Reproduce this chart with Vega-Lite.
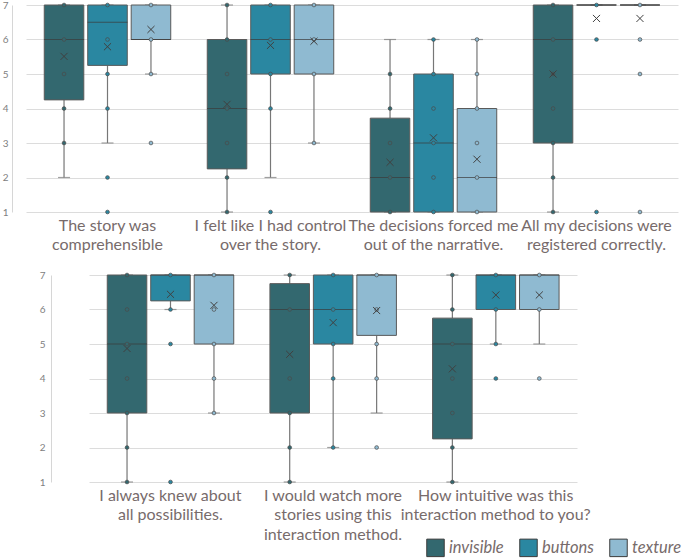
{
  "$schema": "https://vega.github.io/schema/vega-lite/v6.json",
  "background": "white",
  "padding": {"left": 0, "top": 0, "right": 0, "bottom": 0},
  "spacing": 17,
  "config": {
    "view": {"stroke": null},
    "font": "Lato",
    "axisX": {"domain": false, "ticks": false, "grid": false, "labelAngle": 0, "labelFontSize": 16, "labelColor": "#776b6b", "labelLineHeight": 19.5, "labelPadding": 5, "labelLimit": 400, "labelBaseline": "top"},
    "axisY": {"grid": true, "gridColor": "#dcdcdc", "domain": true, "domainColor": "#d6d6d6", "ticks": false, "labelFontSize": 10, "labelColor": "#808080", "values": [1, 2, 3, 4, 5, 6, 7]},
    "legend": {"orient": "none", "legendX": 414, "legendY": 533, "direction": "horizontal", "symbolType": "square", "symbolSize": 306, "symbolStrokeColor": "#3c3c3c", "symbolStrokeWidth": 1, "labelFont": "Lato", "labelFontStyle": "italic", "labelFontSize": 16.5, "labelColor": "#776b6b", "labelOffset": 4, "columnPadding": 13, "title": null}
  },
  "datasets": {
    "statsTop": [
      {"q": "The story was|comprehensible", "cond": "invisible", "lo": 2, "q1": 4.25, "med": 6, "q3": 7, "hi": 7, "mean": 5.51},
      {"q": "The story was|comprehensible", "cond": "buttons", "lo": 3, "q1": 5.25, "med": 6.5, "q3": 7, "hi": 7, "mean": 5.79},
      {"q": "The story was|comprehensible", "cond": "texture", "lo": 5, "q1": 6, "med": 6, "q3": 7, "hi": 7, "mean": 6.29},
      {"q": "I felt like I had control|over the story.", "cond": "invisible", "lo": 1, "q1": 2.25, "med": 4, "q3": 6, "hi": 7, "mean": 4.12},
      {"q": "I felt like I had control|over the story.", "cond": "buttons", "lo": 2, "q1": 5, "med": 6, "q3": 7, "hi": 7, "mean": 5.83},
      {"q": "I felt like I had control|over the story.", "cond": "texture", "lo": 3, "q1": 5, "med": 6, "q3": 7, "hi": 7, "mean": 5.95},
      {"q": "The decisions forced me|out of the narrative.", "cond": "invisible", "lo": 1, "q1": 1, "med": 2, "q3": 3.72, "hi": 6, "mean": 2.44},
      {"q": "The decisions forced me|out of the narrative.", "cond": "buttons", "lo": 1, "q1": 1, "med": 3, "q3": 5, "hi": 6, "mean": 3.15},
      {"q": "The decisions forced me|out of the narrative.", "cond": "texture", "lo": 1, "q1": 1, "med": 2, "q3": 4, "hi": 6, "mean": 2.53},
      {"q": "All my decisions were|registered correctly.", "cond": "invisible", "lo": 1, "q1": 3, "med": 6, "q3": 7, "hi": 7, "mean": 5.0},
      {"q": "All my decisions were|registered correctly.", "cond": "buttons", "lo": 7, "q1": 7, "med": 7, "q3": 7, "hi": 7, "mean": 6.61},
      {"q": "All my decisions were|registered correctly.", "cond": "texture", "lo": 7, "q1": 7, "med": 7, "q3": 7, "hi": 7, "mean": 6.61}
    ],
    "statsBot": [
      {"q": "I always knew about|all possibilities.", "cond": "invisible", "lo": 1, "q1": 3, "med": 5, "q3": 7, "hi": 7, "mean": 4.87},
      {"q": "I always knew about|all possibilities.", "cond": "buttons", "lo": 6, "q1": 6.25, "med": 7, "q3": 7, "hi": 7, "mean": 6.44},
      {"q": "I always knew about|all possibilities.", "cond": "texture", "lo": 3, "q1": 5, "med": 7, "q3": 7, "hi": 7, "mean": 6.12},
      {"q": "I would watch more|stories using this|interaction method.", "cond": "invisible", "lo": 1, "q1": 3, "med": 6, "q3": 6.75, "hi": 7, "mean": 4.7},
      {"q": "I would watch more|stories using this|interaction method.", "cond": "buttons", "lo": 2, "q1": 5, "med": 6, "q3": 7, "hi": 7, "mean": 5.62},
      {"q": "I would watch more|stories using this|interaction method.", "cond": "texture", "lo": 3, "q1": 5.25, "med": 7, "q3": 7, "hi": 7, "mean": 5.97},
      {"q": "How intuitive was this|interaction method to you?", "cond": "invisible", "lo": 1, "q1": 2.25, "med": 5, "q3": 5.75, "hi": 7, "mean": 4.28},
      {"q": "How intuitive was this|interaction method to you?", "cond": "buttons", "lo": 5, "q1": 6, "med": 7, "q3": 7, "hi": 7, "mean": 6.42},
      {"q": "How intuitive was this|interaction method to you?", "cond": "texture", "lo": 5, "q1": 6, "med": 7, "q3": 7, "hi": 7, "mean": 6.42}
    ],
    "ptsTop": [
      {"q": "The story was|comprehensible", "cond": "invisible", "v": 7},
      {"q": "The story was|comprehensible", "cond": "invisible", "v": 6},
      {"q": "The story was|comprehensible", "cond": "invisible", "v": 5},
      {"q": "The story was|comprehensible", "cond": "invisible", "v": 4},
      {"q": "The story was|comprehensible", "cond": "invisible", "v": 3},
      {"q": "The story was|comprehensible", "cond": "buttons", "v": 7},
      {"q": "The story was|comprehensible", "cond": "buttons", "v": 6},
      {"q": "The story was|comprehensible", "cond": "buttons", "v": 5},
      {"q": "The story was|comprehensible", "cond": "buttons", "v": 4},
      {"q": "The story was|comprehensible", "cond": "buttons", "v": 2},
      {"q": "The story was|comprehensible", "cond": "buttons", "v": 1},
      {"q": "The story was|comprehensible", "cond": "texture", "v": 7},
      {"q": "The story was|comprehensible", "cond": "texture", "v": 6},
      {"q": "The story was|comprehensible", "cond": "texture", "v": 5},
      {"q": "The story was|comprehensible", "cond": "texture", "v": 3},
      {"q": "I felt like I had control|over the story.", "cond": "invisible", "v": 7},
      {"q": "I felt like I had control|over the story.", "cond": "invisible", "v": 6},
      {"q": "I felt like I had control|over the story.", "cond": "invisible", "v": 5},
      {"q": "I felt like I had control|over the story.", "cond": "invisible", "v": 4},
      {"q": "I felt like I had control|over the story.", "cond": "invisible", "v": 3},
      {"q": "I felt like I had control|over the story.", "cond": "invisible", "v": 2},
      {"q": "I felt like I had control|over the story.", "cond": "invisible", "v": 1},
      {"q": "I felt like I had control|over the story.", "cond": "buttons", "v": 7},
      {"q": "I felt like I had control|over the story.", "cond": "buttons", "v": 6},
      {"q": "I felt like I had control|over the story.", "cond": "buttons", "v": 5},
      {"q": "I felt like I had control|over the story.", "cond": "buttons", "v": 4},
      {"q": "I felt like I had control|over the story.", "cond": "buttons", "v": 1},
      {"q": "I felt like I had control|over the story.", "cond": "texture", "v": 7},
      {"q": "I felt like I had control|over the story.", "cond": "texture", "v": 6},
      {"q": "I felt like I had control|over the story.", "cond": "texture", "v": 5},
      {"q": "I felt like I had control|over the story.", "cond": "texture", "v": 3},
      {"q": "The decisions forced me|out of the narrative.", "cond": "invisible", "v": 5},
      {"q": "The decisions forced me|out of the narrative.", "cond": "invisible", "v": 4},
      {"q": "The decisions forced me|out of the narrative.", "cond": "invisible", "v": 3},
      {"q": "The decisions forced me|out of the narrative.", "cond": "invisible", "v": 2},
      {"q": "The decisions forced me|out of the narrative.", "cond": "invisible", "v": 1},
      {"q": "The decisions forced me|out of the narrative.", "cond": "buttons", "v": 6},
      {"q": "The decisions forced me|out of the narrative.", "cond": "buttons", "v": 5},
      {"q": "The decisions forced me|out of the narrative.", "cond": "buttons", "v": 4},
      {"q": "The decisions forced me|out of the narrative.", "cond": "buttons", "v": 3},
      {"q": "The decisions forced me|out of the narrative.", "cond": "buttons", "v": 2},
      {"q": "The decisions forced me|out of the narrative.", "cond": "buttons", "v": 1},
      {"q": "The decisions forced me|out of the narrative.", "cond": "texture", "v": 6},
      {"q": "The decisions forced me|out of the narrative.", "cond": "texture", "v": 5},
      {"q": "The decisions forced me|out of the narrative.", "cond": "texture", "v": 4},
      {"q": "The decisions forced me|out of the narrative.", "cond": "texture", "v": 3},
      {"q": "The decisions forced me|out of the narrative.", "cond": "texture", "v": 2},
      {"q": "The decisions forced me|out of the narrative.", "cond": "texture", "v": 1},
      {"q": "All my decisions were|registered correctly.", "cond": "invisible", "v": 7},
      {"q": "All my decisions were|registered correctly.", "cond": "invisible", "v": 6},
      {"q": "All my decisions were|registered correctly.", "cond": "invisible", "v": 5},
      {"q": "All my decisions were|registered correctly.", "cond": "invisible", "v": 4},
      {"q": "All my decisions were|registered correctly.", "cond": "invisible", "v": 3},
      {"q": "All my decisions were|registered correctly.", "cond": "invisible", "v": 2},
      {"q": "All my decisions were|registered correctly.", "cond": "invisible", "v": 1},
      {"q": "All my decisions were|registered correctly.", "cond": "buttons", "v": 7},
      {"q": "All my decisions were|registered correctly.", "cond": "buttons", "v": 6},
      {"q": "All my decisions were|registered correctly.", "cond": "buttons", "v": 1},
      {"q": "All my decisions were|registered correctly.", "cond": "texture", "v": 7},
      {"q": "All my decisions were|registered correctly.", "cond": "texture", "v": 6},
      {"q": "All my decisions were|registered correctly.", "cond": "texture", "v": 5},
      {"q": "All my decisions were|registered correctly.", "cond": "texture", "v": 1}
    ],
    "ptsBot": [
      {"q": "I always knew about|all possibilities.", "cond": "invisible", "v": 7},
      {"q": "I always knew about|all possibilities.", "cond": "invisible", "v": 6},
      {"q": "I always knew about|all possibilities.", "cond": "invisible", "v": 5},
      {"q": "I always knew about|all possibilities.", "cond": "invisible", "v": 4},
      {"q": "I always knew about|all possibilities.", "cond": "invisible", "v": 3},
      {"q": "I always knew about|all possibilities.", "cond": "invisible", "v": 2},
      {"q": "I always knew about|all possibilities.", "cond": "invisible", "v": 1},
      {"q": "I always knew about|all possibilities.", "cond": "buttons", "v": 7},
      {"q": "I always knew about|all possibilities.", "cond": "buttons", "v": 6},
      {"q": "I always knew about|all possibilities.", "cond": "buttons", "v": 5},
      {"q": "I always knew about|all possibilities.", "cond": "buttons", "v": 1},
      {"q": "I always knew about|all possibilities.", "cond": "texture", "v": 7},
      {"q": "I always knew about|all possibilities.", "cond": "texture", "v": 6},
      {"q": "I always knew about|all possibilities.", "cond": "texture", "v": 5},
      {"q": "I always knew about|all possibilities.", "cond": "texture", "v": 4},
      {"q": "I always knew about|all possibilities.", "cond": "texture", "v": 3},
      {"q": "I would watch more|stories using this|interaction method.", "cond": "invisible", "v": 7},
      {"q": "I would watch more|stories using this|interaction method.", "cond": "invisible", "v": 6},
      {"q": "I would watch more|stories using this|interaction method.", "cond": "invisible", "v": 4},
      {"q": "I would watch more|stories using this|interaction method.", "cond": "invisible", "v": 3},
      {"q": "I would watch more|stories using this|interaction method.", "cond": "invisible", "v": 2},
      {"q": "I would watch more|stories using this|interaction method.", "cond": "invisible", "v": 1},
      {"q": "I would watch more|stories using this|interaction method.", "cond": "buttons", "v": 7},
      {"q": "I would watch more|stories using this|interaction method.", "cond": "buttons", "v": 6},
      {"q": "I would watch more|stories using this|interaction method.", "cond": "buttons", "v": 5},
      {"q": "I would watch more|stories using this|interaction method.", "cond": "buttons", "v": 4},
      {"q": "I would watch more|stories using this|interaction method.", "cond": "buttons", "v": 2},
      {"q": "I would watch more|stories using this|interaction method.", "cond": "texture", "v": 7},
      {"q": "I would watch more|stories using this|interaction method.", "cond": "texture", "v": 6},
      {"q": "I would watch more|stories using this|interaction method.", "cond": "texture", "v": 5},
      {"q": "I would watch more|stories using this|interaction method.", "cond": "texture", "v": 4},
      {"q": "I would watch more|stories using this|interaction method.", "cond": "texture", "v": 2},
      {"q": "How intuitive was this|interaction method to you?", "cond": "invisible", "v": 7},
      {"q": "How intuitive was this|interaction method to you?", "cond": "invisible", "v": 6},
      {"q": "How intuitive was this|interaction method to you?", "cond": "invisible", "v": 5},
      {"q": "How intuitive was this|interaction method to you?", "cond": "invisible", "v": 4},
      {"q": "How intuitive was this|interaction method to you?", "cond": "invisible", "v": 3},
      {"q": "How intuitive was this|interaction method to you?", "cond": "invisible", "v": 2},
      {"q": "How intuitive was this|interaction method to you?", "cond": "invisible", "v": 1},
      {"q": "How intuitive was this|interaction method to you?", "cond": "buttons", "v": 7},
      {"q": "How intuitive was this|interaction method to you?", "cond": "buttons", "v": 6},
      {"q": "How intuitive was this|interaction method to you?", "cond": "buttons", "v": 5},
      {"q": "How intuitive was this|interaction method to you?", "cond": "buttons", "v": 4},
      {"q": "How intuitive was this|interaction method to you?", "cond": "texture", "v": 7},
      {"q": "How intuitive was this|interaction method to you?", "cond": "texture", "v": 6},
      {"q": "How intuitive was this|interaction method to you?", "cond": "texture", "v": 4}
    ]
  },
  "vconcat": [
    {
      "width": 673,
      "height": 207,
      "encoding": {
        "x": {"field": "q", "type": "nominal", "title": null,
          "scale": {"domain": ["The story was|comprehensible", "I felt like I had control|over the story.", "The decisions forced me|out of the narrative.", "All my decisions were|registered correctly."], "range": [14, 666], "paddingInner": 0, "paddingOuter": 0},
          "axis": {"labelExpr": "split(datum.label, '|')"}},
        "xOffset": {"field": "cond", "type": "nominal", "scale": {"domain": ["invisible", "buttons", "texture"], "paddingInner": 0.09, "paddingOuter": 0.42}}
      },
      "layer": [
        {"data": {"name": "statsTop"}, "mark": {"type": "rule", "color": "#777777", "strokeWidth": 1.2},
          "encoding": {"y": {"field": "lo", "type": "quantitative", "title": null, "scale": {"domain": [1, 7], "nice": false, "zero": false}, "axis": {"minExtent": 12, "maxExtent": 12, "labelPadding": 4}}, "y2": {"field": "q1"}}},
        {"data": {"name": "statsTop"}, "mark": {"type": "rule", "color": "#777777", "strokeWidth": 1.2},
          "encoding": {"y": {"field": "q3", "type": "quantitative", "title": null}, "y2": {"field": "hi"}}},
        {"data": {"name": "statsTop"}, "mark": {"type": "tick", "color": "#777777", "size": 12, "thickness": 1.2},
          "encoding": {"y": {"field": "lo", "type": "quantitative", "title": null}}},
        {"data": {"name": "statsTop"}, "mark": {"type": "tick", "color": "#777777", "size": 12, "thickness": 1.2},
          "encoding": {"y": {"field": "hi", "type": "quantitative", "title": null}}},
        {"data": {"name": "statsTop"}, "mark": {"type": "bar", "stroke": "#5a5a5a", "strokeWidth": 1},
          "encoding": {"y": {"field": "q1", "type": "quantitative", "title": null}, "y2": {"field": "q3"},
            "fill": {"field": "cond", "type": "nominal", "title": null, "scale": {"domain": ["invisible", "buttons", "texture"], "range": ["#33686f", "#2a87a1", "#8fbad1"]}}}},
        {"data": {"name": "statsTop"}, "mark": {"type": "tick", "color": "#3a3a3a", "size": 40, "thickness": 1.2},
          "encoding": {"y": {"field": "med", "type": "quantitative", "title": null}}},
        {"data": {"name": "ptsTop"}, "mark": {"type": "point", "filled": true, "size": 14, "stroke": "#4a4a4a", "strokeWidth": 0.7, "opacity": 1},
          "encoding": {"y": {"field": "v", "type": "quantitative", "title": null}, "fill": {"field": "cond", "type": "nominal", "title": null}}},
        {"data": {"name": "statsTop"}, "mark": {"type": "point", "shape": "M-1,-1L1,1M-1,1L1,-1", "size": 50, "stroke": "#404040", "strokeWidth": 1, "filled": false, "opacity": 1},
          "encoding": {"y": {"field": "mean", "type": "quantitative", "title": null}}}
      ]
    },
    {
      "spacing": 0,
      "hconcat": [
        {
          "width": 1,
          "height": 207,
          "data": {"values": [{"s": 1}]},
          "mark": {"type": "point", "opacity": 0},
          "encoding": {"y": {"field": "s", "type": "quantitative", "axis": null}}
        },
        {
          "width": 576,
          "height": 207,
          "encoding": {
            "x": {"field": "q", "type": "nominal", "title": null,
              "scale": {"domain": ["I always knew about|all possibilities.", "I would watch more|stories using this|interaction method.", "How intuitive was this|interaction method to you?"], "range": [38, 526], "paddingInner": 0, "paddingOuter": 0},
              "axis": {"labelExpr": "split(datum.label, '|')"}},
            "xOffset": {"field": "cond", "type": "nominal", "scale": {"domain": ["invisible", "buttons", "texture"], "paddingInner": 0.09, "paddingOuter": 0.42}}
          },
          "layer": [
            {"data": {"name": "statsBot"}, "mark": {"type": "rule", "color": "#777777", "strokeWidth": 1.2},
              "encoding": {"y": {"field": "lo", "type": "quantitative", "title": null, "scale": {"domain": [1, 7], "nice": false, "zero": false}, "axis": {"minExtent": 35, "maxExtent": 35, "labelPadding": 6}}, "y2": {"field": "q1"}}},
            {"data": {"name": "statsBot"}, "mark": {"type": "rule", "color": "#777777", "strokeWidth": 1.2},
              "encoding": {"y": {"field": "q3", "type": "quantitative", "title": null}, "y2": {"field": "hi"}}},
            {"data": {"name": "statsBot"}, "mark": {"type": "tick", "color": "#777777", "size": 12, "thickness": 1.2},
              "encoding": {"y": {"field": "lo", "type": "quantitative", "title": null}}},
            {"data": {"name": "statsBot"}, "mark": {"type": "tick", "color": "#777777", "size": 12, "thickness": 1.2},
              "encoding": {"y": {"field": "hi", "type": "quantitative", "title": null}}},
            {"data": {"name": "statsBot"}, "mark": {"type": "bar", "stroke": "#5a5a5a", "strokeWidth": 1},
              "encoding": {"y": {"field": "q1", "type": "quantitative", "title": null}, "y2": {"field": "q3"},
                "fill": {"field": "cond", "type": "nominal", "title": null, "scale": {"domain": ["invisible", "buttons", "texture"], "range": ["#33686f", "#2a87a1", "#8fbad1"]}}}},
            {"data": {"name": "statsBot"}, "mark": {"type": "tick", "color": "#3a3a3a", "size": 40, "thickness": 1.2},
              "encoding": {"y": {"field": "med", "type": "quantitative", "title": null}}},
            {"data": {"name": "ptsBot"}, "mark": {"type": "point", "filled": true, "size": 14, "stroke": "#4a4a4a", "strokeWidth": 0.7, "opacity": 1},
              "encoding": {"y": {"field": "v", "type": "quantitative", "title": null}, "fill": {"field": "cond", "type": "nominal", "title": null}}},
            {"data": {"name": "statsBot"}, "mark": {"type": "point", "shape": "M-1,-1L1,1M-1,1L1,-1", "size": 50, "stroke": "#404040", "strokeWidth": 1, "filled": false, "opacity": 1},
              "encoding": {"y": {"field": "mean", "type": "quantitative", "title": null}}}
          ]
        }
      ]
    }
  ]
}
